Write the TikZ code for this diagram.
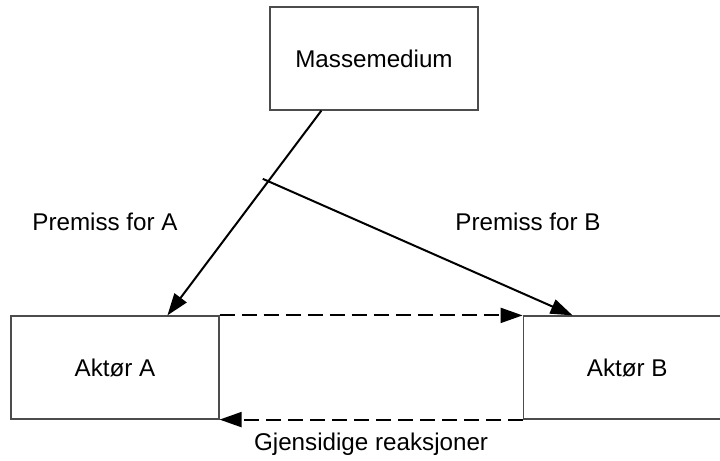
\documentclass[tikz,border=0pt]{standalone}
\usepackage{fontspec}
\setmainfont{Liberation Sans}
\usepackage{tikz}
\usetikzlibrary{positioning,arrows.meta}

\begin{document}
\begin{tikzpicture}[x=0.5pt, y=-0.5pt,
        box/.style = {
            draw=black!70,
            line width=0.6pt,
            minimum width=104pt,
            minimum height=51.5pt,
            inner sep=0pt,
            font=\fontsize{12.1}{14}\selectfont
        },
        lbl/.style = {font=\fontsize{12.1}{14}\selectfont, inner sep=1pt},
        link/.style = {line width=1pt, -{Triangle[length=11pt,width=7.5pt]}},
        back/.style = {link, dash pattern=on 7.5pt off 3.5pt}]

        \useasboundingbox (0,0) rectangle (720,461);

        \node[box] (m) at (374,58.5) {Massemedium};
        \node[box] (a) at (115,367.5) {Aktør A};
        \node[box, right=151.5pt of a] (b) {Aktør B};

        \draw[link] ([xshift=26pt]m.south west) -- ([xshift=78.5pt]a.north west)
            coordinate[pos=0.345] (split);
        \draw[link, shorten <=-3pt] (split) -- ([xshift=25pt]b.north west);

        \node[lbl] (pa) at (105,222) {Premiss for A};
        \node[lbl] (pb) at (528,222) {Premiss for B};

        \draw[back] (a.north east) -- (b.north west);
        \draw[back] (b.south west) -- (a.south east)
            node[midway, below=5pt, lbl] (g) {Gjensidige reaksjoner};
\end{tikzpicture}
\end{document}
